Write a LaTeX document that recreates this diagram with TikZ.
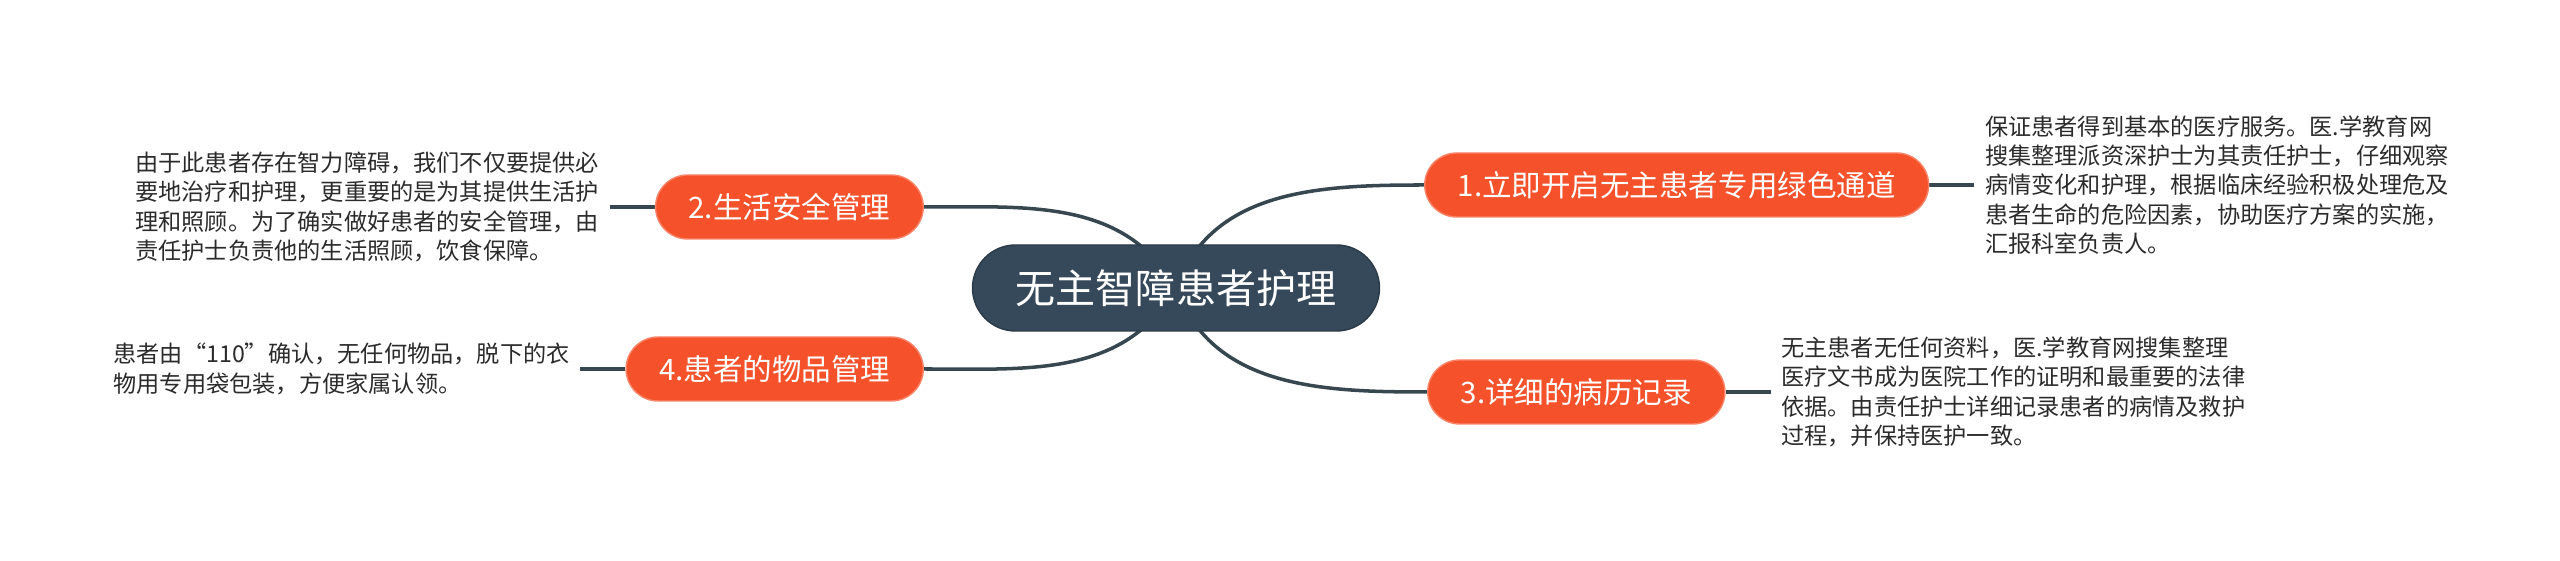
\documentclass[tikz,border=0pt]{standalone}
\usepackage{fontspec}
\setmainfont{Noto Sans CJK SC}
\usepackage{tikz}
\usetikzlibrary{positioning, backgrounds}
\definecolor{rootblue}{HTML}{36495A}
\definecolor{branchred}{HTML}{F5512A}
\definecolor{linkgray}{HTML}{37474F}
\definecolor{notegray}{HTML}{2B2B2B}

\begin{document}
\begin{tikzpicture}[
    rootnode/.style={rectangle,rounded corners=0.43cm,fill=rootblue,
          draw=rootblue!80!black,minimum width=4.07cm,minimum height=0.86cm,
          text=white,font=\fontsize{11.4}{13}\selectfont},
    branch/.style={rectangle,rounded corners=0.32cm,fill=branchred,
          draw=branchred!70!white,minimum height=0.64cm,inner xsep=0.33cm,
          text=white,font=\fontsize{8.4}{10}\selectfont},
    note/.style={align=left,inner sep=0.1cm,text=notegray,
          font=\fontsize{6.6}{8.37}\selectfont},
    link/.style={draw=linkgray,line width=1pt}]
    \useasboundingbox (0,0) rectangle (25.6,-5.61);
    % Centre
    \node[rootnode](root)at(11.76,-2.88){无主智障患者护理};
    % Branch 1
    \node[branch,anchor=west](b1)at(14.24,-1.85){1.立即开启无主患者专用绿色通道};
    \node[note,right=0.45cm of b1](t1)
         {保证患者得到基本的医疗服务。医.学教育网\\
          搜集整理派资深护士为其责任护士，仔细观察\\
          病情变化和护理，根据临床经验积极处理危及\\
          患者生命的危险因素，协助医疗方案的实施，\\
          汇报科室负责人。};
    % Branch 2
    \node[branch,anchor=east](b2)at(9.24,-2.07){2.生活安全管理};
    \node[note,left=0.45cm of b2](t2)
         {由于此患者存在智力障碍，我们不仅要提供必\\
          要地治疗和护理，更重要的是为其提供生活护\\
          理和照顾。为了确实做好患者的安全管理，由\\
          责任护士负责他的生活照顾，饮食保障。};
    % Branch 3
    \node[branch,anchor=west](b3)at(14.27,-3.92){3.详细的病历记录};
    \node[note,right=0.45cm of b3](t3)
         {无主患者无任何资料，医.学教育网搜集整理\\
          医疗文书成为医院工作的证明和最重要的法律\\
          依据。由责任护士详细记录患者的病情及救护\\
          过程，并保持医护一致。};
    % Branch 4
    \node[branch,anchor=east](b4)at(9.24,-3.69){4.患者的物品管理};
    \node[note,left=0.45cm of b4](t4)
         {患者由“110”确认，无任何物品，脱下的衣\\
          物用专用袋包装，方便家属认领。};
    % Links
    \begin{scope}[on background layer]
      \draw[link](root.center)to[out=70,in=180](b1.west);
      \draw[link](root.center)to[out=120,in=0](b2.east);
      \draw[link](root.center)to[out=-70,in=180](b3.west);
      \draw[link](root.center)to[out=-120,in=0](b4.east);
      \draw[link](b1)--(t1);
      \draw[link](b2)--(t2);
      \draw[link](b3)--(t3);
      \draw[link](b4)--(t4);
    \end{scope}
  \end{tikzpicture}
\end{document}
